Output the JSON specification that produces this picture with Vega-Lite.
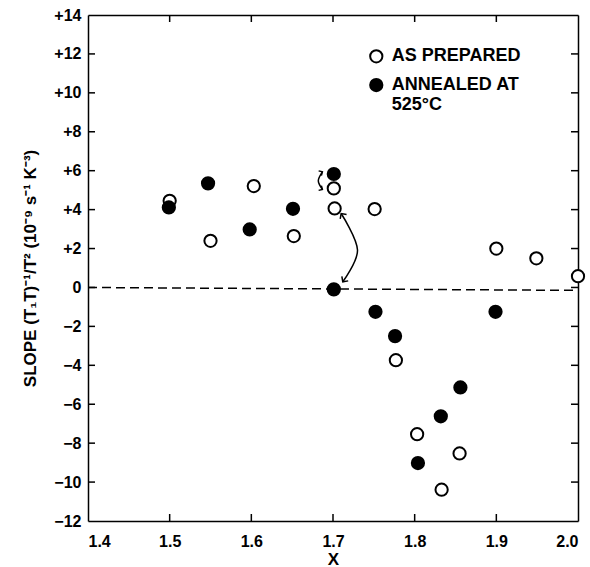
{
  "$schema": "https://vega.github.io/schema/vega-lite/v6.json",
  "autosize": {"type": "none"},
  "padding": {"left": 88, "top": 15, "right": 12, "bottom": 46},
  "width": 490,
  "height": 506,
  "background": "white",
  "config": {
    "view": {"stroke": null},
    "font": "Liberation Sans",
    "axis": {
      "domainColor": "black", "domainWidth": 1.5, "ticks": false, "grid": false,
      "labelColor": "black", "labelFont": "Liberation Sans",
      "labelFontWeight": "bold", "labelFontSize": 16, "titleColor": "black", "zindex": 1,
      "titleFont": "Liberation Sans", "titleFontWeight": "bold", "titleFontSize": 17
    }
  },
  "datasets": {
    "pts": [
      {"x": 1.5, "y": 4.45, "series": "as prepared"},
      {"x": 1.55, "y": 2.4, "series": "as prepared"},
      {"x": 1.603, "y": 5.21, "series": "as prepared"},
      {"x": 1.652, "y": 2.64, "series": "as prepared"},
      {"x": 1.701, "y": 5.09, "series": "as prepared"},
      {"x": 1.702, "y": 4.06, "series": "as prepared"},
      {"x": 1.751, "y": 4.03, "series": "as prepared"},
      {"x": 1.777, "y": -3.74, "series": "as prepared"},
      {"x": 1.803, "y": -7.54, "series": "as prepared"},
      {"x": 1.833, "y": -10.39, "series": "as prepared"},
      {"x": 1.855, "y": -8.53, "series": "as prepared"},
      {"x": 1.9, "y": 2.0, "series": "as prepared"},
      {"x": 1.949, "y": 1.5, "series": "as prepared"},
      {"x": 2.0, "y": 0.58, "series": "as prepared"},
      {"x": 1.499, "y": 4.11, "series": "annealed"},
      {"x": 1.547, "y": 5.35, "series": "annealed"},
      {"x": 1.598, "y": 2.98, "series": "annealed"},
      {"x": 1.651, "y": 4.04, "series": "annealed"},
      {"x": 1.701, "y": 5.83, "series": "annealed"},
      {"x": 1.701, "y": -0.1, "series": "annealed"},
      {"x": 1.752, "y": -1.25, "series": "annealed"},
      {"x": 1.899, "y": -1.25, "series": "annealed"},
      {"x": 1.776, "y": -2.5, "series": "annealed"},
      {"x": 1.856, "y": -5.14, "series": "annealed"},
      {"x": 1.832, "y": -6.62, "series": "annealed"},
      {"x": 1.804, "y": -9.02, "series": "annealed"}
    ],
    "legendpts": [
      {"x": 1.753, "y": 11.88, "series": "as prepared"},
      {"x": 1.753, "y": 10.4, "series": "annealed"}
    ],
    "legendtxt": [
      {"x": 1.772, "y": 11.88, "t": "AS PREPARED"},
      {"x": 1.772, "y": 10.4, "t": "ANNEALED AT"},
      {"x": 1.772, "y": 9.37, "t": "525°C"}
    ],
    "dash": [{"x": 1.4, "y": 0}, {"x": 2.0, "y": -0.15}],
    "xticks": [{"x": 1.5}, {"x": 1.6}, {"x": 1.7}, {"x": 1.8}, {"x": 1.9}],
    "yticks": [{"y": -10}, {"y": -8}, {"y": -6}, {"y": -4}, {"y": -2}, {"y": 0}, {"y": 2}, {"y": 4}, {"y": 6}, {"y": 8}, {"y": 10}, {"y": 12}],
    "arrows": [
      {"arrow": "big", "i": 0, "x": 1.710, "y": 3.8},
      {"arrow": "big", "i": 1, "x": 1.730, "y": 1.92},
      {"arrow": "big", "i": 2, "x": 1.712, "y": 0.29},
      {"arrow": "small", "i": 0, "x": 1.687, "y": 5.94},
      {"arrow": "small", "i": 1, "x": 1.682, "y": 5.48},
      {"arrow": "small", "i": 2, "x": 1.687, "y": 5.04}
    ]
  },
  "layer": [
    {
      "data": {"name": "dash"},
      "mark": {"type": "line", "color": "black", "strokeDash": [9, 5], "strokeWidth": 1.5},
      "encoding": {
        "x": {"field": "x", "type": "quantitative", "scale": {"domain": [1.4, 2.0], "nice": false},
          "axis": {"orient": "bottom", "values": [1.4, 1.5, 1.6, 1.7, 1.8, 1.9, 2.0], "format": ".1f", "title": "X", "labelPadding": 12, "titlePadding": 2}},
        "y": {"field": "y", "type": "quantitative", "scale": {"domain": [-12, 14], "nice": false},
          "axis": {"orient": "left", "values": [-12, -10, -8, -6, -4, -2, 0, 2, 4, 6, 8, 10, 12, 14], "labelExpr": "datum.value > 0 ? '+' + datum.label : datum.label", "title": "SLOPE (T₁T)⁻¹/T² (10⁻⁹ s⁻¹ K⁻³)", "labelPadding": 7, "titlePadding": 14}}
      }
    },
    {
      "data": {"name": "dash"},
      "mark": {"type": "line", "opacity": 0},
      "encoding": {
        "x": {"field": "x", "type": "quantitative", "axis": {"orient": "top", "labels": false, "title": null}},
        "y": {"field": "y", "type": "quantitative", "axis": {"orient": "right", "labels": false, "title": null}}
      }
    },
    {
      "data": {"name": "xticks"},
      "mark": {"type": "rule", "color": "black", "strokeWidth": 1.5},
      "encoding": {"x": {"field": "x", "type": "quantitative", "axis": null}, "y": {"datum": -12, "type": "quantitative", "axis": null}, "y2": {"datum": -11.64}}
    },
    {
      "data": {"name": "xticks"},
      "mark": {"type": "rule", "color": "black", "strokeWidth": 1.5},
      "encoding": {"x": {"field": "x", "type": "quantitative", "axis": null}, "y": {"datum": 14, "type": "quantitative", "axis": null}, "y2": {"datum": 13.64}}
    },
    {
      "data": {"name": "yticks"},
      "mark": {"type": "rule", "color": "black", "strokeWidth": 1.5},
      "encoding": {"y": {"field": "y", "type": "quantitative", "axis": null}, "x": {"datum": 1.4, "type": "quantitative", "axis": null}, "x2": {"datum": 1.4086}}
    },
    {
      "data": {"name": "yticks"},
      "mark": {"type": "rule", "color": "black", "strokeWidth": 1.5},
      "encoding": {"y": {"field": "y", "type": "quantitative", "axis": null}, "x": {"datum": 2.0, "type": "quantitative", "axis": null}, "x2": {"datum": 1.9914}}
    },
    {
      "data": {"name": "arrows"},
      "mark": {"type": "line", "color": "black", "strokeWidth": 1.5, "interpolate": "cardinal"},
      "encoding": {
        "x": {"field": "x", "type": "quantitative", "axis": null},
        "y": {"field": "y", "type": "quantitative", "axis": null},
        "detail": {"field": "arrow"},
        "order": {"field": "i"}
      }
    },
    {
      "data": {"name": "arrows"},
      "transform": [{"filter": "datum.arrow == 'big' && datum.i == 0"}],
      "mark": {"type": "point", "shape": "M-1,1L0,0L1,1", "size": 60, "stroke": "black", "strokeWidth": 1.5, "filled": false, "angle": -35, "opacity": 1},
      "encoding": {"x": {"field": "x", "type": "quantitative", "axis": null}, "y": {"field": "y", "type": "quantitative", "axis": null}}
    },
    {
      "data": {"name": "arrows"},
      "transform": [{"filter": "datum.arrow == 'big' && datum.i == 2"}],
      "mark": {"type": "point", "shape": "M-1,1L0,0L1,1", "size": 60, "stroke": "black", "strokeWidth": 1.5, "filled": false, "angle": 215, "opacity": 1},
      "encoding": {"x": {"field": "x", "type": "quantitative", "axis": null}, "y": {"field": "y", "type": "quantitative", "axis": null}}
    },
    {
      "data": {"name": "arrows"},
      "transform": [{"filter": "datum.arrow == 'small' && datum.i == 0"}],
      "mark": {"type": "point", "shape": "M-1,1L0,0L1,1", "size": 30, "stroke": "black", "strokeWidth": 1.5, "filled": false, "angle": 60, "opacity": 1},
      "encoding": {"x": {"field": "x", "type": "quantitative", "axis": null}, "y": {"field": "y", "type": "quantitative", "axis": null}}
    },
    {
      "data": {"name": "arrows"},
      "transform": [{"filter": "datum.arrow == 'small' && datum.i == 2"}],
      "mark": {"type": "point", "shape": "M-1,1L0,0L1,1", "size": 30, "stroke": "black", "strokeWidth": 1.5, "filled": false, "angle": 120, "opacity": 1},
      "encoding": {"x": {"field": "x", "type": "quantitative", "axis": null}, "y": {"field": "y", "type": "quantitative", "axis": null}}
    },
    {
      "data": {"name": "pts"},
      "mark": {"type": "point", "shape": "circle", "size": 150, "stroke": "black", "strokeWidth": 2, "opacity": 1, "filled": true},
      "encoding": {
        "x": {"field": "x", "type": "quantitative", "axis": null},
        "y": {"field": "y", "type": "quantitative", "axis": null},
        "fill": {"field": "series", "type": "nominal", "scale": {"domain": ["as prepared", "annealed"], "range": ["white", "black"]}, "legend": null}
      }
    },
    {
      "data": {"name": "legendpts"},
      "mark": {"type": "point", "shape": "circle", "size": 150, "stroke": "black", "strokeWidth": 2, "opacity": 1, "filled": true},
      "encoding": {
        "x": {"field": "x", "type": "quantitative", "axis": null},
        "y": {"field": "y", "type": "quantitative", "axis": null},
        "fill": {"field": "series", "type": "nominal", "scale": {"domain": ["as prepared", "annealed"], "range": ["white", "black"]}, "legend": null}
      }
    },
    {
      "data": {"name": "legendtxt"},
      "mark": {"type": "text", "align": "left", "baseline": "middle", "font": "Liberation Sans", "fontWeight": "bold", "fontSize": 18, "color": "black"},
      "encoding": {
        "x": {"field": "x", "type": "quantitative", "axis": null},
        "y": {"field": "y", "type": "quantitative", "axis": null},
        "text": {"field": "t"}
      }
    }
  ],
  "resolve": {"axis": {"x": "independent", "y": "independent"}}
}
